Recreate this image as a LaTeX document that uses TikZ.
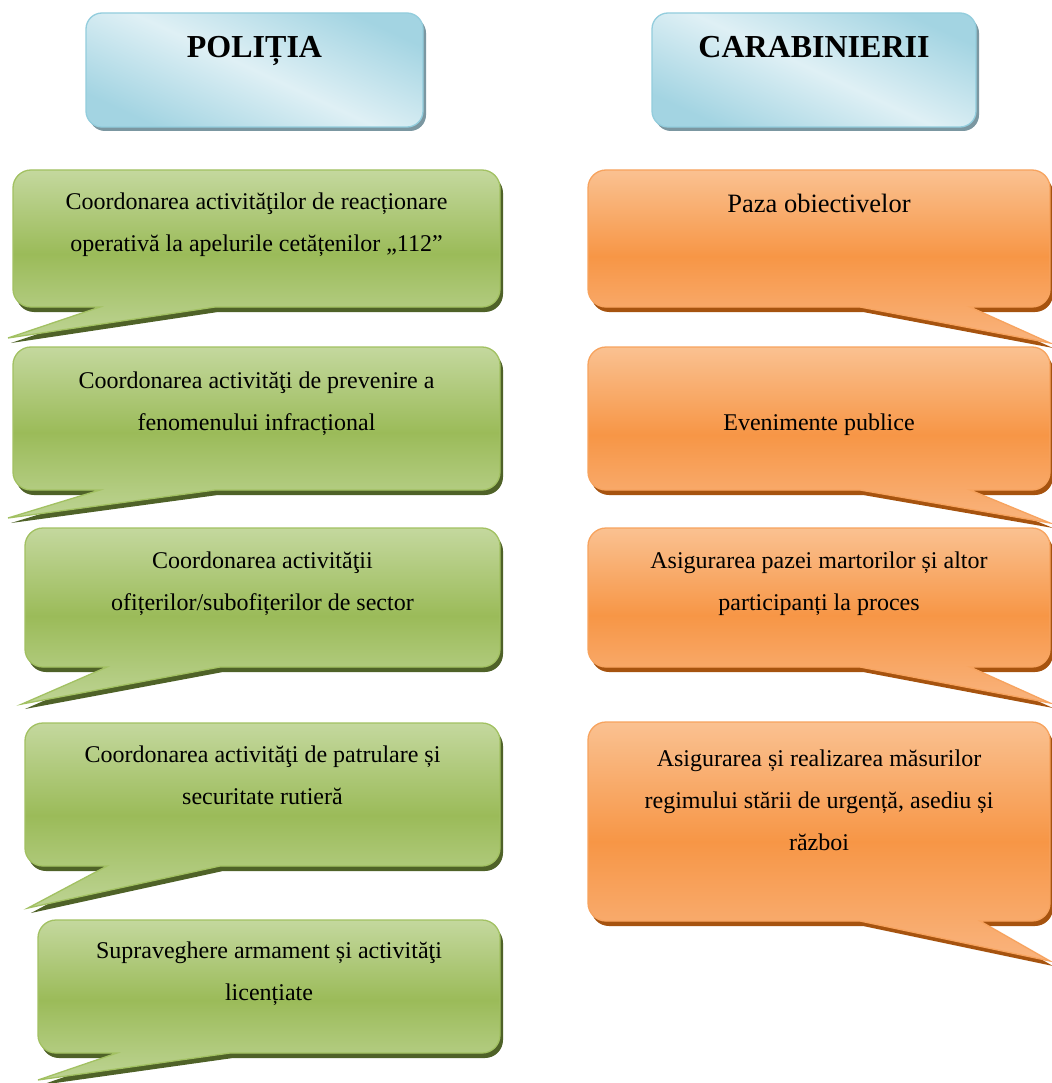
\documentclass[tikz,border=0pt]{standalone}
\usepackage{fontspec}
\setmainfont{Liberation Serif}
\definecolor{gTop}{HTML}{C4D89E}
\definecolor{gMid}{HTML}{9BBB59}
\definecolor{gBot}{HTML}{BED494}
\definecolor{gEdge}{HTML}{A2C162}
\definecolor{gDark}{HTML}{4F6228}
\definecolor{oTop}{HTML}{FAC191}
\definecolor{oMid}{HTML}{F79646}
\definecolor{oBot}{HTML}{F9B47E}
\definecolor{oEdge}{HTML}{F7A35E}
\definecolor{oDark}{HTML}{A6530F}
\definecolor{hOut}{HTML}{A3D4E2}
\definecolor{hIn}{HTML}{DFF0F5}
\definecolor{hEdge}{HTML}{93CDDD}
\definecolor{hDark}{HTML}{7B97A1}
\begin{document}
\begin{tikzpicture}[x=1pt,y=-1pt,
  % speech bubble outline: L R T B innerbase outerbase tipx tipy
  callout/.style n args={8}{insert path={
    (#1+40,#3) [rounded corners=18pt] -- (#2,#3) -- (#2,#4) [sharp corners]
    -- (#6,#4) -- (#7,#8) -- (#5,#4) [rounded corners=18pt]
    -- (#1,#4) -- (#1,#3) -- cycle}},
  gbody/.style={top color=gTop, bottom color=gBot, middle color=gMid, draw=gEdge, line width=1.3pt},
  obody/.style={top color=oTop, bottom color=oBot, middle color=oMid, draw=oEdge, line width=1.3pt},
  gshadow/.style={fill=gDark, shift={(3,5)}},
  oshadow/.style={fill=oDark, shift={(3,5)}},
  hbody/.style={top color=hOut, bottom color=hOut, middle color=hIn, shading angle=-25,
    draw=hEdge, line width=1.3pt, rounded corners=16pt},
  hshadow/.style={fill=hDark, rounded corners=16pt},
  htxt/.style={font=\fontsize{32}{38}\selectfont\bfseries, anchor=base, inner sep=0pt},
  btxt/.style={font=\fontsize{24}{42}\selectfont, align=center, anchor=north, inner sep=0pt, yshift=29.4pt},
  bigtxt/.style={btxt, font=\fontsize{26.5}{42}\selectfont},
]
\fill[white] (0,0) rectangle (1051,1083);
\useasboundingbox (0,0) rectangle (1051,1083);

% column headers
\fill[hshadow] (89,17) rectangle (426,131);
\path[shade, hbody] (86,13) rectangle (423,127);
\node[htxt] (politia) at (254.5,58) {POLIȚIA};

\fill[hshadow] (655,17) rectangle (979,131);
\path[shade, hbody] (652,13) rectangle (976,127);
\node[htxt] (carabinieri) at (814,58) {CARABINIERII};

% left column: green bubbles
\fill[gshadow, callout={13}{500}{170}{307}{100}{215}{8}{338}];
\path[shade, gbody, callout={13}{500}{170}{307}{100}{215}{8}{338}];
\node[btxt] (p1) at (256.5,209) {\strut Coordonarea activităţilor de reacționare\\\strut operativă la apelurile cetățenilor „112”};

\fill[gshadow, callout={13}{500}{347}{490}{100}{215}{8}{518}];
\path[shade, gbody, callout={13}{500}{347}{490}{100}{215}{8}{518}];
\node[btxt] (p2) at (256.5,388) {\strut Coordonarea activităţi de prevenire a\\\strut fenomenului infracțional};

\fill[gshadow, callout={25}{500}{528}{667}{107}{220}{22}{704}];
\path[shade, gbody, callout={25}{500}{528}{667}{107}{220}{22}{704}];
\node[btxt] (p3) at (262.5,568) {\strut Coordonarea activităţii\\\strut ofițerilor/subofițerilor de sector};

\fill[gshadow, callout={25}{500}{723}{866}{107}{220}{28}{908}];
\path[shade, gbody, callout={25}{500}{723}{866}{107}{220}{28}{908}];
\node[btxt] (p4) at (262.5,762) {\strut Coordonarea activităţi de patrulare și\\\strut securitate rutieră};

\fill[gshadow, callout={38}{500}{920}{1053}{117}{230}{38}{1080}];
\path[shade, gbody, callout={38}{500}{920}{1053}{117}{230}{38}{1080}];
\node[btxt] (p5) at (269,958) {\strut Supraveghere armament și activităţi\\\strut licențiate};

% right column: orange bubbles
\fill[oshadow, callout={588}{1050}{170}{307}{860}{970}{1050}{343}];
\path[shade, obody, callout={588}{1050}{170}{307}{860}{970}{1050}{343}];
\node[bigtxt] (c1) at (819,212) {\strut Paza obiectivelor};

\fill[oshadow, callout={588}{1050}{347}{490}{860}{970}{1050}{523}];
\path[shade, obody, callout={588}{1050}{347}{490}{860}{970}{1050}{523}];
\node[btxt] (c2) at (819,430) {\strut Evenimente publice};

\fill[oshadow, callout={588}{1050}{528}{667}{860}{970}{1050}{703}];
\path[shade, obody, callout={588}{1050}{528}{667}{860}{970}{1050}{703}];
\node[btxt] (c3) at (819,568) {\strut Asigurarea pazei martorilor și altor\\\strut participanți la proces};

\fill[oshadow, callout={588}{1050}{722}{921}{860}{980}{1050}{961}];
\path[shade, obody, callout={588}{1050}{722}{921}{860}{980}{1050}{961}];
\node[btxt] (c4) at (819,766) {\strut Asigurarea și realizarea măsurilor\\\strut regimului stării de urgență, asediu și\\\strut război};
\end{tikzpicture}
\end{document}
